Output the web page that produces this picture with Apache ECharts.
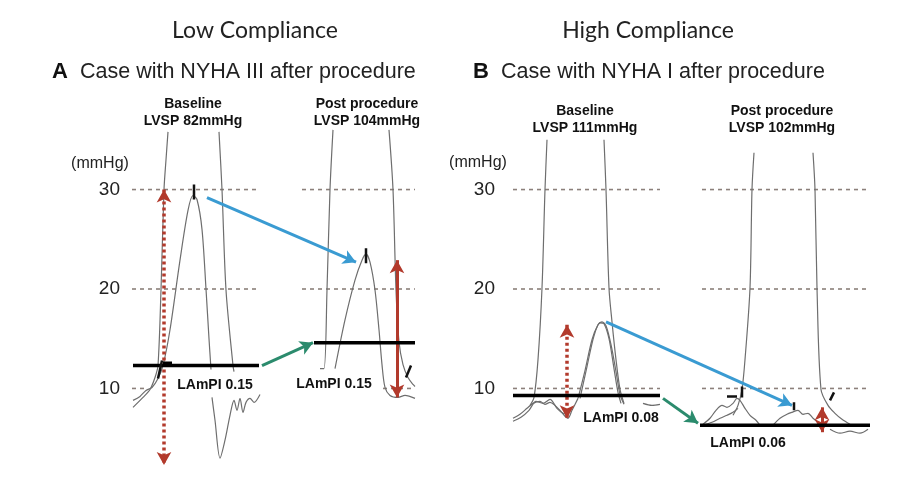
<!DOCTYPE html>
<html><head><meta charset="utf-8">
<script src="https://cdn.jsdelivr.net/npm/echarts@6/dist/echarts.min.js"></script>
<style>html,body{margin:0;padding:0;background:#fff}#c{width:901px;height:482px}</style>
</head><body><div id="c"></div>
<script>
// ---- Data (time units, mmHg) ----
const yTicks = [10, 20, 30];
// Panel A (Low compliance)
const aBaseLV1 = [[38,35.8],[36,33],[34,30],[31,19.9],[28,12.3],[25,11.1],[20,9.9],[13,9.1],[3,8.1]];
const aBaseLA = [[3,8.8],[10,9.2],[16,9.8],[22,10.1],[28,11.0],[33,12.3],[40,15.9],[50,22.9],[58,27.9],[63,29.4],[67,29.0],[72,26.0],[76,20.0],[79,15.0],[81,11.9]];
const aBaseLV2 = [[89,35.8],[92,30],[96,19.9],[103,12.3],[104,11.7]];
const aBaseDia = [[82,9.1],[85,6.8],[90,3.0],[95,4.8],[100,7.3],[104,8.8],[107,7.8],[110,9.0],[113,7.6],[116,8.6],[120,9.0],[124,8.6],[130,9.4]];
const aPostLV1 = [[203,36],[200,30],[197,19.9],[194,12.0],[190,12.0]];
const aPostLA = [[205,12.0],[215,16.9],[225,20.9],[232,22.9],[236,23.5],[240,22.7],[245,19.9],[249,15.9],[252,12.4],[255,10.1],[260,9.3],[268,9.1],[275,9.3],[285,9.0]];
const aPostLV2 = [[259,36],[263,30],[266,19.9],[269,14.7],[273,12.4],[278,11.1],[283,10.4],[285,10.2]];
const aMeanBase = 12.3, aMeanPost = 14.6;
const aTicks = [[[64,30.5],[64,29.0]],[[28,11.0],[32,12.8]],[[236,24.1],[236,22.6]],[[276,11.1],[281,12.3]]];
// Panel B (High compliance)
const bBaseLV1 = [[42,35],[40,30],[37,20.1],[33,12.9],[29,9.1],[25,8.3]];
const bBaseSq1 = [[8,7.0],[15,7.4],[22,8.0],[28,8.5],[35,8.7],[40,8.4],[45,8.6],[50,8.3],[55,7.8],[60,7.2],[63,7.0],[67,7.8],[73,9.0]];
const bBaseSq2 = [[8,6.7],[16,7.1],[24,7.8],[31,8.7],[38,8.5],[45,8.9],[52,8.0],[58,7.5],[62,7.4]];
const bBaseLA1 = [[73,9.0],[80,11.8],[87,14.9],[93,16.4],[97,16.7],[101,16.3],[106,14.4],[111,11.7],[115,9.4],[119,8.4]];
const bBaseLA2 = [[75,9.0],[82,12.2],[89,15.3],[95,16.6],[99,16.5],[104,15.0],[109,12.0],[113,9.6],[116,8.5]];
const bBaseLV2 = [[99,35],[101,30],[104,20.1],[107,16.7],[111,12.9],[115,9.9],[119,8.5]];
const bBaseTail = [[138,8.5],[147,8.3],[155,8.4]];
const bPostLV1 = [[249,33.7],[247,30],[245,20.1],[240,12.9],[237,9.9],[233,8.3],[228,7.3]];
const bPostBump1 = [[198,6.4],[205,7.0],[211,7.8],[217,8.3],[222,8.1],[228,8.5],[232,9.0],[235,8.8],[240,8.0],[245,7.3],[251,6.8],[255,6.3]];
const bPostBump2 = [[198,6.3],[207,6.6],[215,7.0],[222,7.3],[228,7.6],[233,8.0]];
const bPostBump3 = [[268,6.3],[275,7.0],[282,7.4],[287,7.6],[293,7.8],[298,7.4],[303,7.5],[308,7.0],[313,6.6],[317,6.3]];
const bPostLV2 = [[308,33.7],[310,30],[312,20.1],[316,9.9],[323,8.3],[330,7.5],[337,6.9],[345,6.4]];
const bPostTail = [[325,5.9],[335,5.5],[345,5.7],[355,5.5],[363,5.9]];
const bMeanBase = 9.3, bMeanPost = 6.3;
const bTicks = [[[222,9.2],[232,9.2]],[[237,10.2],[237,9.1]],[[289,8.6],[289,7.8]],[[325,8.8],[329,9.6]]];

// dashed reference segments: [level, from, to]
const aDash = [[30,2,130],[20,2,130],[10,2,15],[30,172,285],[20,172,285],[10,253,285]];
const bDash = [[30,8,155],[20,8,155],[10,8,155],[30,197,363],[20,197,363],[10,197,363]];
const aMeanSeg = [[aMeanBase,3,129],[aMeanPost,184,285]];
const bMeanSeg = [[bMeanBase,8,155],[bMeanPost,195,365]];

// arrows
const aBlue = [[77,29.2],[226,22.7]];
const aGreen = [[132,12.3],[183,14.6]];
const aRedDotted = [[34,30],[34,2.3]];
const aRedSolid = [[267,22.9],[267,9.1]];
const bBlue = [[101,16.7],[287,8.3]];
const bGreen = [[158,9.0],[193,6.5]];
const bRedDotted = [[62,16.4],[62,7.0]];
const bRedSolid = [[317,8.1],[317,5.6]];

// ---- Styles ----
const TRACE = '#6e6e6e', DASH = '#8c807b', BLUE = '#3a9bd2', GREEN = '#2b8b6d', RED = '#b23a2c';
const FONT = '"Liberation Sans", Arial, sans-serif';
const TFONT = 'Lato, "Open Sans", sans-serif';

const series = [];
function trace(g, data, w) {
  series.push({type:'line', xAxisIndex:g, yAxisIndex:g, data, symbol:'none', silent:true, smooth:0.3,
    lineStyle:{color:TRACE, width:w||1.2}, z:3});
}
function seg(g, list, style, z) {
  list.forEach(s => series.push({type:'line', xAxisIndex:g, yAxisIndex:g,
    data:[[s[1],s[0]],[s[2],s[0]]], symbol:'none', silent:true, lineStyle:style, z:z}));
}
function tick(g, list) {
  list.forEach(p => series.push({type:'line', xAxisIndex:g, yAxisIndex:g, data:p, symbol:'none', silent:true,
    lineStyle:{color:'#111', width:2.5}, z:6}));
}
function arrow(g, pts, color, type, w, both) {
  series.push({type:'line', xAxisIndex:g, yAxisIndex:g, data:[], silent:true,
    markLine:{silent:true, symbol: both ? ['arrow','arrow'] : ['none','arrow'], symbolSize:[11,13],
      label:{show:false}, lineStyle:{color, type, width:w},
      data:[[{coord:pts[0]},{coord:pts[1]}]]}, z:8});
}

// Panel A
seg(0, aDash, {color:DASH, type:[4,4], width:1.6}, 1);
[aBaseLV1,aBaseLA,aBaseLV2,aBaseDia,aPostLV1,aPostLA,aPostLV2].forEach(d=>trace(0,d));
seg(0, aMeanSeg, {color:'#000', width:3.5}, 5);
tick(0, aTicks);
series.push({type:'line', xAxisIndex:0, yAxisIndex:0, data:[[33,12.45],[42,12.45]], symbol:'none', silent:true, lineStyle:{color:'#000', width:5}, z:6});
arrow(0, aBlue, BLUE, 'solid', 3, false);
arrow(0, aGreen, GREEN, 'solid', 3, false);
arrow(0, aRedDotted, RED, [3,3], 3.5, true);
arrow(0, aRedSolid, RED, 'solid', 3, true);
// Panel B
seg(1, bDash, {color:DASH, type:[4,4], width:1.6}, 1);
[bBaseLV1,bBaseSq1,bBaseSq2,bBaseLA1,bBaseLA2,bBaseLV2,bBaseTail,bPostLV1,bPostBump1,bPostBump2,bPostBump3,bPostLV2,bPostTail].forEach(d=>trace(1,d));
seg(1, bMeanSeg, {color:'#000', width:3.5}, 5);
tick(1, bTicks);
arrow(1, bBlue, BLUE, 'solid', 3, false);
arrow(1, bGreen, GREEN, 'solid', 3, false);
arrow(1, bRedDotted, RED, [3,3], 3.5, true);
arrow(1, bRedSolid, RED, 'solid', 3, true);

function yAx(g) {
  return {type:'value', gridIndex:g, min:2, max:38, splitLine:{show:false}, axisLine:{show:false}, axisTick:{show:false},
    axisLabel:{customValues:yTicks, color:'#222', fontSize:19, fontFamily:FONT, margin:10}};
}
function xAx(g, max) {
  return {type:'value', gridIndex:g, min:0, max, show:false};
}

function txt(x, y, t, size, opts) {
  return {type:'text', x, y, silent:true, style:Object.assign({text:t, fontSize:size, fontFamily:FONT,
    fill:'#111', align:'center', verticalAlign:'middle'}, (opts||{}))};
}
const graphics = [
  txt(255, 31, 'Low Compliance', 23, {fontFamily:TFONT, fill:'#222'}),
  txt(648, 31, 'High Compliance', 23, {fontFamily:TFONT, fill:'#222'}),
  txt(52, 72, 'A', 22, {fontWeight:'bold', align:'left'}),
  txt(80, 72, 'Case with NYHA III after procedure', 21.5, {align:'left', fill:'#222'}),
  txt(473, 72, 'B', 22, {fontWeight:'bold', align:'left'}),
  txt(501, 72, 'Case with NYHA I after procedure', 21.5, {align:'left', fill:'#222'}),
  txt(193, 104, 'Baseline', 14, {fontWeight:'bold'}),
  txt(193, 121, 'LVSP 82mmHg', 14, {fontWeight:'bold'}),
  txt(367, 104, 'Post procedure', 14, {fontWeight:'bold'}),
  txt(367, 121, 'LVSP 104mmHg', 14, {fontWeight:'bold'}),
  txt(585, 111, 'Baseline', 14, {fontWeight:'bold'}),
  txt(585, 128, 'LVSP 111mmHg', 14, {fontWeight:'bold'}),
  txt(782, 111, 'Post procedure', 14, {fontWeight:'bold'}),
  txt(782, 128, 'LVSP 102mmHg', 14, {fontWeight:'bold'}),
  txt(100, 164, '(mmHg)', 16, {fill:'#222'}),
  txt(478, 163, '(mmHg)', 16, {fill:'#222'}),
  txt(215, 385, 'LAmPI 0.15', 14, {fontWeight:'bold'}),
  txt(334, 384, 'LAmPI 0.15', 14, {fontWeight:'bold'}),
  txt(621, 418, 'LAmPI 0.08', 14, {fontWeight:'bold'}),
  txt(748, 443, 'LAmPI 0.06', 14, {fontWeight:'bold'})
];

const chart = echarts.init(document.getElementById('c'), null, {renderer:'canvas'});
chart.setOption({
  animation:false,
  backgroundColor:'#fff',
  grid:[{left:130, top:110, width:290, height:358}, {left:505, top:110, width:375, height:358}],
  xAxis:[xAx(0,290), xAx(1,375)],
  yAxis:[yAx(0), yAx(1)],
  series,
  graphic:graphics
});
</script></body></html>
